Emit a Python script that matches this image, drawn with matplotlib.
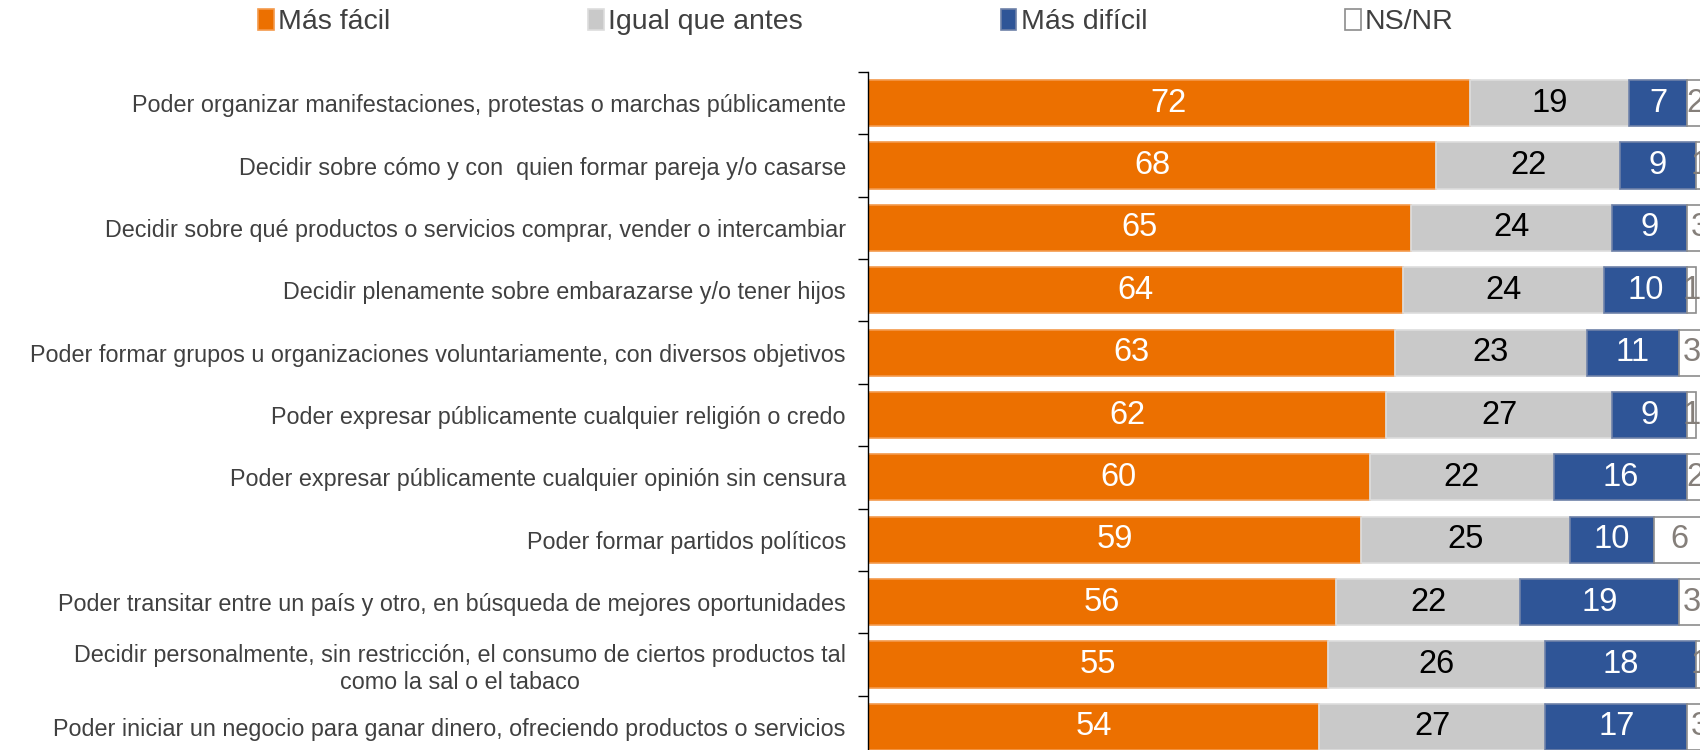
import matplotlib
matplotlib.use("Agg")
import matplotlib.pyplot as plt
import numpy as np

plt.rcParams['font.family'] = ['Liberation Sans', 'DejaVu Sans']

categories = [
    "Poder organizar manifestaciones, protestas o marchas públicamente",
    "Decidir sobre cómo y con  quien formar pareja y/o casarse",
    "Decidir sobre qué productos o servicios comprar, vender o intercambiar",
    "Decidir plenamente sobre embarazarse y/o tener hijos",
    "Poder formar grupos u organizaciones voluntariamente, con diversos objetivos",
    "Poder expresar públicamente cualquier religión o credo",
    "Poder expresar públicamente cualquier opinión sin censura",
    "Poder formar partidos políticos",
    "Poder transitar entre un país y otro, en búsqueda de mejores oportunidades",
    "Decidir personalmente, sin restricción, el consumo de ciertos productos tal\ncomo la sal o el tabaco",
    "Poder iniciar un negocio para ganar dinero, ofreciendo productos o servicios",
]
mas_facil = [72, 68, 65, 64, 63, 62, 60, 59, 56, 55, 54]
igual = [19, 22, 24, 24, 23, 27, 22, 25, 22, 26, 27]
mas_dificil = [7, 9, 9, 10, 11, 9, 16, 10, 19, 18, 17]
nsnr = [2, 1, 3, 1, 3, 1, 2, 6, 3, 1, 3]

series = [
    ("Más fácil", mas_facil, "#EC7000", "#F49A4C", "white"),
    ("Igual que antes", igual, "#C9C9C9", "#DDDDDD", "black"),
    ("Más difícil", mas_dificil, "#2F5597", "#6E81A8", "white"),
    ("NS/NR", nsnr, "white", "#8C8C8C", "#857F7A"),
]

fig = plt.figure(figsize=(17, 7.5), dpi=100)
# axes run slightly past the right and bottom edges, as in the original
ax = fig.add_axes([868 / 1700, -8 / 750, 836 / 1700, 686 / 750])

y = np.arange(len(categories))
left = np.zeros(len(categories))
handles = []
for name, vals, color, edge, tcolor in series:
    vals = np.array(vals, dtype=float)
    bars = ax.barh(y, vals, left=left, height=0.74, color=color,
                   edgecolor=edge, linewidth=1.2, label=name)
    handles.append(bars)
    for yi, l, v in zip(y, left, vals):
        ax.text(l + v / 2, yi, f"{int(v)}", ha="center", va="center",
                fontsize=23.5, color=tcolor)
    left += vals

ax.set_xlim(0, 100)
ax.set_ylim(len(categories) - 0.5, -0.5)
ax.set_yticks(y)
ax.set_yticklabels(categories, fontsize=16.8, color="#404040",
                   multialignment="center", linespacing=1.25)
ax.set_yticks(np.arange(len(categories) + 1) - 0.5, minor=True)
ax.tick_params(axis="y", which="major", length=0, pad=16)
ax.tick_params(axis="y", which="minor", length=7, width=1, color="black")
ax.set_xticks([])
for s in ["top", "right", "bottom"]:
    ax.spines[s].set_visible(False)
ax.spines["left"].set_color("black")
ax.spines["left"].set_linewidth(1)

fig.legend(handles=handles, labels=[s[0] for s in series], loc="center",
           bbox_to_anchor=(856 / 1700, 1 - 22 / 750), ncol=4, frameon=False,
           fontsize=20.5, handlelength=0.55, handleheight=0.75,
           handletextpad=0.15, columnspacing=6.95, labelcolor="#404040")

fig.savefig("out.png", dpi=100)
